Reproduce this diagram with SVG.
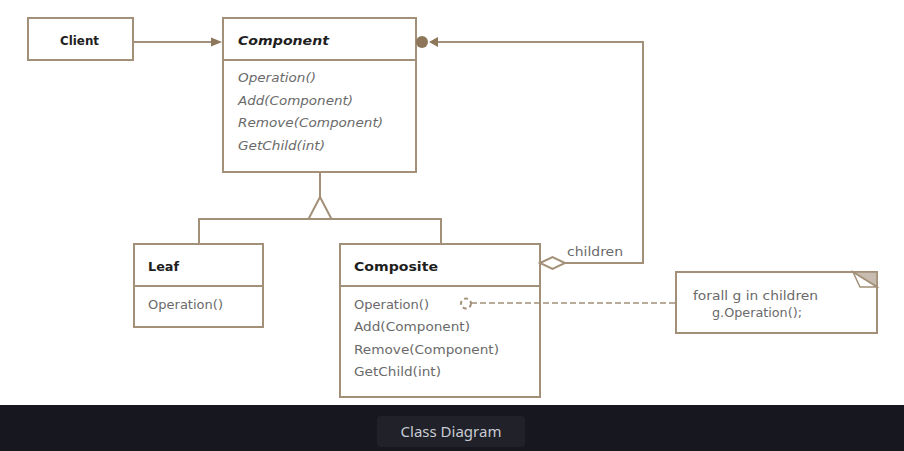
<svg xmlns="http://www.w3.org/2000/svg" width="904" height="451" viewBox="0 0 904 451">
<defs>
<style>
.box{fill:#fff;stroke:#a39079;stroke-width:2}
.ln{fill:none;stroke:#a39079;stroke-width:2}
.hd{font-family:"DejaVu Sans",sans-serif;font-size:13px;font-weight:bold;fill:#1e1e1e}
.mt{font-family:"DejaVu Sans",sans-serif;font-size:12.5px;fill:#6a6a6a}
.it{font-style:italic}
.ah{fill:#8d7659}
</style>
</defs>
<rect x="0" y="0" width="904" height="405" fill="#fff"/>
<g id="client">
<rect class="box" x="28" y="18" width="105" height="42"/>
<text class="hd" x="60" y="45" textLength="39" lengthAdjust="spacingAndGlyphs">Client</text>
</g>
<g id="component">
<rect class="box" x="223" y="18" width="193" height="154"/>
<line class="ln" x1="223" y1="60" x2="416" y2="60"/>
<text class="hd it" x="238" y="45" textLength="91" lengthAdjust="spacingAndGlyphs">Component</text>
<text class="mt it" x="238" y="82" textLength="78" lengthAdjust="spacingAndGlyphs">Operation()</text>
<text class="mt it" x="238" y="105" textLength="115" lengthAdjust="spacingAndGlyphs">Add(Component)</text>
<text class="mt it" x="238" y="127" textLength="145" lengthAdjust="spacingAndGlyphs">Remove(Component)</text>
<text class="mt it" x="238" y="150" textLength="87" lengthAdjust="spacingAndGlyphs">GetChild(int)</text>
</g>
<g id="leaf">
<rect class="box" x="134" y="244" width="129" height="83"/>
<line class="ln" x1="134" y1="286" x2="263" y2="286"/>
<text class="hd" x="148" y="271" textLength="31" lengthAdjust="spacingAndGlyphs">Leaf</text>
<text class="mt" x="148" y="309" textLength="75" lengthAdjust="spacingAndGlyphs">Operation()</text>
</g>
<g id="composite">
<rect class="box" x="340" y="244" width="200" height="153"/>
<line class="ln" x1="340" y1="286" x2="540" y2="286"/>
<text class="hd" x="354" y="271" textLength="84" lengthAdjust="spacingAndGlyphs">Composite</text>
<text class="mt" x="354" y="309" textLength="75" lengthAdjust="spacingAndGlyphs">Operation()</text>
<text class="mt" x="354" y="331" textLength="116" lengthAdjust="spacingAndGlyphs">Add(Component)</text>
<text class="mt" x="354" y="354" textLength="145" lengthAdjust="spacingAndGlyphs">Remove(Component)</text>
<text class="mt" x="354" y="376" textLength="87" lengthAdjust="spacingAndGlyphs">GetChild(int)</text>
</g>
<g id="note">
<rect class="box" x="676" y="272" width="201" height="61"/>
<polygon points="853,272 877,272 877,287" fill="#c7bcaf" stroke="#a39079" stroke-width="1.5"/>
<polygon points="853,272 860,287 877,287" fill="#fff" stroke="#a39079" stroke-width="1.5"/>
<text class="mt" x="693" y="300" textLength="125" lengthAdjust="spacingAndGlyphs">forall g in children</text>
<text class="mt" x="712" y="317" textLength="90" lengthAdjust="spacingAndGlyphs">g.Operation();</text>
</g>
<g id="connectors">
<line class="ln" x1="133" y1="42" x2="212" y2="42"/>
<polygon class="ah" points="222,42 211,37.5 211,46.5"/>
<polyline class="ln" points="565,263 643,263 643,42 437,42"/>
<polygon class="ah" points="429,42 438,37 438,47"/>
<circle class="ah" cx="422" cy="42" r="6"/>
<polygon points="540,263 552.5,257 565,263 552.5,269" fill="#fff" stroke="#a39079" stroke-width="2"/>
<text class="mt" x="567" y="256" textLength="56" lengthAdjust="spacingAndGlyphs">children</text>
<line class="ln" x1="320" y1="172" x2="320" y2="197"/>
<polygon points="320,197 308.5,219 331.5,219" fill="#fff" stroke="#a39079" stroke-width="2"/>
<polyline class="ln" points="199,244 199,219 441,219 441,244"/>
<line x1="471" y1="303" x2="676" y2="303" stroke="#a39079" stroke-width="1.5" stroke-dasharray="6,3"/>
<circle cx="466" cy="303.5" r="5" fill="none" stroke="#a39079" stroke-width="2" stroke-dasharray="4,3"/>
</g>
<g id="caption">
<rect x="0" y="405" width="904" height="46" fill="#17181f"/>
<rect x="377" y="416" width="148" height="31" rx="4" fill="#202129"/>
<text x="451" y="437" text-anchor="middle" font-family="'Noto Sans',sans-serif" font-size="15" fill="#c9ccd3">Class Diagram</text>
</g>
</svg>
